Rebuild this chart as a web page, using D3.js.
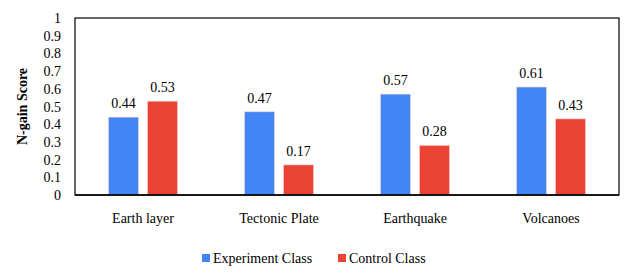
<!DOCTYPE html>
<html><head><meta charset="utf-8">
<script src="https://cdn.jsdelivr.net/npm/d3@7"></script>
</head><body style="margin:0">
<script>
const categories = ["Earth layer", "Tectonic Plate", "Earthquake", "Volcanoes"];
const experiment = [0.44, 0.47, 0.57, 0.61];
const control = [0.53, 0.17, 0.28, 0.43];
const seriesNames = ["Experiment Class", "Control Class"];
const colors = ["#4285F4", "#EA4335"];
const yTicks = [0, 0.1, 0.2, 0.3, 0.4, 0.5, 0.6, 0.7, 0.8, 0.9, 1];
const yTickLabels = ["0", "0.1", "0.2", "0.3", "0.4", "0.5", "0.6", "0.7", "0.8", "0.9", "1"];

const FF = "'Liberation Serif'";
const W = 643, H = 276;
const m = {l: 75, r: 24, t: 18, b: 81};
const svg = d3.select("body").append("svg").attr("width", W).attr("height", H)
  .attr("font-family", FF).attr("font-size", 14);
const x = d3.scaleBand().domain(categories).range([m.l, W - m.r]);
const y = d3.scaleLinear().domain([0, 1]).range([H - m.b, m.t]);
const bw = 30, gap = 9;

const T = svg.append("g").attr("font-family", FF).attr("font-size", 14);

T.selectAll("text.yt").data(yTicks).join("text").attr("class", "yt")
  .attr("x", m.l - 14).attr("y", d => y(d) + 5)
  .attr("text-anchor", "end").attr("font-family", FF).attr("font-size", 14)
  .text((d, i) => yTickLabels[i]);

const series = [experiment, control];
series.forEach((vals, si) => {
  const off = si === 0 ? -gap / 2 - bw : gap / 2;
  svg.append("g").selectAll("rect").data(categories).join("rect")
    .attr("x", d => x(d) + x.bandwidth() / 2 + off)
    .attr("y", (d, i) => y(vals[i]))
    .attr("width", bw)
    .attr("height", (d, i) => y(0) - y(vals[i]))
    .attr("fill", colors[si]).attr("stroke", "#f4d0cc").attr("stroke-width", 0.6);
  T.selectAll("text.v" + si).data(categories).join("text").attr("class", "v" + si)
    .attr("x", d => x(d) + x.bandwidth() / 2 + off + bw / 2)
    .attr("y", (d, i) => y(vals[i]) - 9)
    .attr("text-anchor", "middle").attr("font-family", FF).attr("font-size", 14)
    .text((d, i) => vals[i].toFixed(2));
});

svg.append("rect").attr("x", m.l).attr("y", m.t).attr("width", W - m.r - m.l).attr("height", H - m.b - m.t)
  .attr("fill", "none").attr("stroke", "#000").attr("stroke-width", 1.2);
svg.append("line").attr("x1", m.l).attr("x2", W - m.r).attr("y1", y(0)).attr("y2", y(0)).attr("stroke", "#000").attr("stroke-width", 1.5);

T.selectAll("text.xl").data(categories).join("text").attr("class", "xl")
  .attr("x", d => x(d) + x.bandwidth() / 2).attr("y", 223)
  .attr("text-anchor", "middle").attr("font-family", FF).attr("font-size", 14).text(d => d);

T.append("text").attr("transform", `translate(27,${(m.t + H - m.b) / 2}) rotate(-90)`)
  .attr("text-anchor", "middle").attr("font-family", FF).attr("font-size", 14).attr("font-weight", "bold").text("N-gain Score");

const legX = [202, 338];
seriesNames.forEach((n, i) => {
  svg.append("rect").attr("x", legX[i]).attr("y", 254).attr("width", 8).attr("height", 8).attr("fill", colors[i]);
  T.append("text").attr("x", legX[i] + 11).attr("y", 263).attr("font-family", FF).attr("font-size", 14).text(n);
});
</script>
</body></html>
